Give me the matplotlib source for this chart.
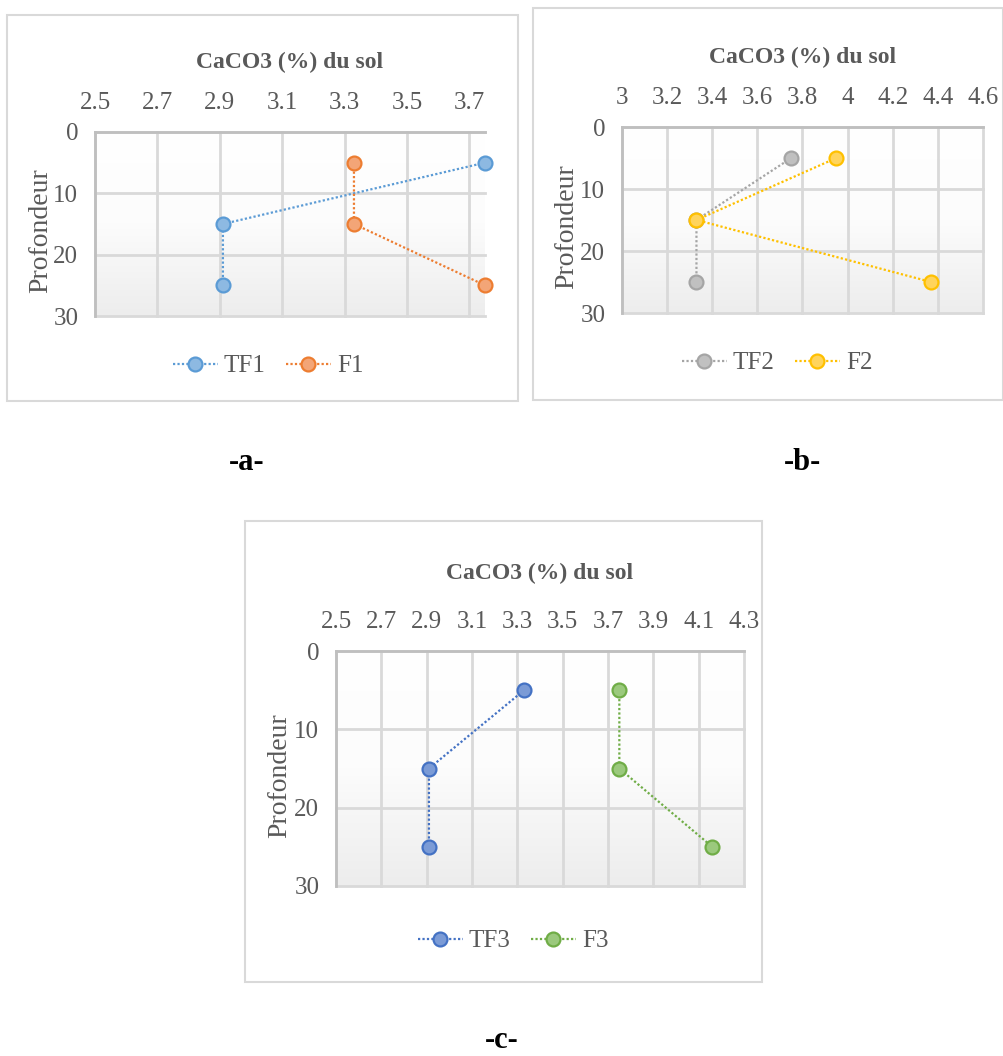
import matplotlib
matplotlib.use("Agg")
import matplotlib.pyplot as plt
import numpy as np
from matplotlib.colors import LinearSegmentedColormap
from matplotlib.patches import Rectangle

plt.rcParams["font.family"] = ["Liberation Serif", "DejaVu Serif"]

depth = [5, 15, 25]

tf1 = [3.75, 2.91, 2.91]
f1 = [3.33, 3.33, 3.75]
tf2 = [3.75, 3.33, 3.33]
f2 = [3.95, 3.33, 4.37]
tf3 = [3.33, 2.91, 2.91]
f3 = [3.75, 3.75, 4.16]

W, H = 1004, 1056
fig = plt.figure(figsize=(W / 100, H / 100), dpi=100)
GREY = "#595959"
grad = LinearSegmentedColormap.from_list("g", ["#ffffff", "#fcfcfc", "#ededed"])


def fx(x):
    return x / W


def fy(y):
    return 1 - y / H


def panel(box, plot, title_y, lab_x, leg_xy, xlim, xticks, series):
    # chart frame
    bx0, by0, bx1, by1 = box
    fig.patches.append(Rectangle((fx(bx0), fy(by1)), (bx1 - bx0) / W, (by1 - by0) / H,
                                 transform=fig.transFigure, fill=False,
                                 edgecolor="#d9d9d9", lw=1.5))
    l, t, r, b = plot
    ax = fig.add_axes([fx(l), fy(b), (r - l) / W, (b - t) / H])
    ax.imshow(np.linspace(0, 1, 100).reshape(-1, 1), cmap=grad, aspect="auto",
              extent=[0, 1, 0, 1], transform=ax.transAxes, zorder=0)
    handles = []
    for vals, name, col, fc in series:
        h, = ax.plot(vals, depth, linestyle=(0, (1, 1)), lw=1.6, color=col,
                     marker="o", ms=10, mfc=fc, mec=col, mew=1.6, label=name,
                     zorder=3, clip_on=False)
        handles.append(h)
    ax.set_xlim(*xlim)
    ax.set_ylim(30, 0)
    ax.set_xticks(xticks)
    ax.set_xticklabels([("%g" % v) for v in xticks])
    ax.set_yticks([0, 10, 20, 30])
    ax.xaxis.tick_top()
    ax.tick_params(length=0, labelsize=18, labelcolor=GREY)
    ax.tick_params(axis="x", pad=13)
    ax.tick_params(axis="y", pad=12)
    ax.grid(True, color="#d9d9d9", lw=2, zorder=1)
    ax.set_axisbelow(True)
    for gl in ax.get_xgridlines() + ax.get_ygridlines():
        gl.set_clip_on(False)
    for s in ["right", "bottom"]:
        ax.spines[s].set_visible(False)
    for s in ["left", "top"]:
        ax.spines[s].set_color("#bfbfbf")
        ax.spines[s].set_linewidth(2)
    cx = (l + r) / 2
    fig.text(fx(cx), fy(title_y), "CaCO3 (%) du sol", ha="center", va="center",
             fontsize=17, fontweight="bold", color=GREY)
    fig.text(fx(lab_x), fy((t + b) / 2 + 7), "Profondeur", rotation=90,
             ha="center", va="center", fontsize=20, color=GREY)
    fig.legend(handles=handles, loc="center", ncol=2, frameon=False,
               bbox_to_anchor=(fx(leg_xy[0]), fy(leg_xy[1])), fontsize=18,
               labelcolor=GREY, handlelength=1.8, columnspacing=0.8,
               handletextpad=0.25)
    return ax


panel((7, 15, 518, 401), (95, 132, 485, 316), 62, 41, (268, 366),
      (2.5, 3.75), [2.5, 2.7, 2.9, 3.1, 3.3, 3.5, 3.7],
      [(tf1, "TF1", "#5b9bd5", "#8db9e2"), (f1, "F1", "#ed7d31", "#f3a577")])

panel((533, 8, 1003, 400), (622, 127, 983, 313), 57, 567, (777, 363),
      (3.0, 4.6), [3, 3.2, 3.4, 3.6, 3.8, 4, 4.2, 4.4, 4.6],
      [(tf2, "TF2", "#a5a5a5", "#c0c0c0"), (f2, "F2", "#ffc000", "#ffd45c")])

panel((245, 521, 762, 982), (336, 651, 744, 886), 573, 280, (513, 941),
      (2.5, 4.3), [2.5, 2.7, 2.9, 3.1, 3.3, 3.5, 3.7, 3.9, 4.1, 4.3],
      [(tf3, "TF3", "#4472c4", "#7b9bd6"), (f3, "F3", "#70ad47", "#9bc97d")])

for txt, x, y in [("-a-", 247, 462), ("-b-", 803, 462), ("-c-", 502, 1040)]:
    fig.text(fx(x), fy(y), txt, ha="center", va="center", fontsize=22,
             fontweight="bold", color="black")

fig.savefig("out.png", dpi=100)
